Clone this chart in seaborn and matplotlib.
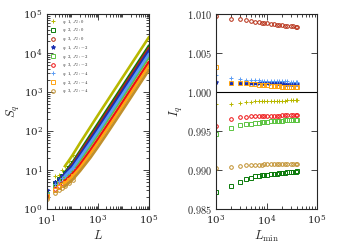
import numpy as np
import pandas as pd
import seaborn as sns
from matplotlib import pyplot as plt
from matplotlib.ticker import FuncFormatter, LogLocator, MultipleLocator

sns.set_style("ticks")
plt.rcParams['font.family'] = ['DejaVu Serif']
plt.rcParams['mathtext.fontset'] = 'cm'

# series labels / styles
labels = ["q1J0", "q2J0", "q3J0", "q1J-2", "q2J-2", "q3J-2", "q1J-4", "q2J-4", "q3J-4"]
legend_txt = [r"$q:1,\ J_2:0$", r"$q:2,\ J_2:0$", r"$q:3,\ J_2:0$",
              r"$q:1,\ J_2:-2$", r"$q:2,\ J_2:-2$", r"$q:3,\ J_2:-2$",
              r"$q:1,\ J_2:-4$", r"$q:2,\ J_2:-4$", r"$q:3,\ J_2:-4$"]
colors = ["#b8b800", "#0a7a0a", "#b52a10", "#1a2fb0", "#5cc442", "#ee1111",
          "#5a9cf5", "#ffa514", "#c08f2c"]
markers = ["+", "s", "o", "*", "s", "o", "+", "s", "o"]

# left panel: S_q vs L
L = [10, 20, 30, 40, 50, 70, 100, 200, 500, 1e3, 2e3, 5e3, 1e4, 2e4, 5e4, 1e5]
S_q1J0 = [2.7, 7.0, 7.5, 10, 12.5, 17, 24, 50, 127, 257, 515, 1290, 2580, 5160, 12900, 25800]
S_q2J0 = [2.3, 4.6, 5.8, 7.2, 8.6, 11.5, 15.5, 31, 78, 155, 310, 775, 1550, 3100, 7750, 15500]
S_q3J0 = [2.1, 4.2, 5.3, 6.6, 7.8, 10.5, 14, 28, 68, 135, 270, 675, 1350, 2700, 6750, 13500]
S_q1J2 = [3.0, 4.8, 5.9, 7.0, 8.1, 10.2, 13, 25, 60, 118, 235, 585, 1170, 2340, 5850, 11700]
S_q2J2 = [2.4, 3.9, 4.7, 5.5, 6.3, 7.8, 9.8, 18, 42, 82, 162, 402, 800, 1600, 4000, 8000]
S_q3J2 = [2.0, 3.3, 3.9, 4.6, 5.2, 6.4, 8.0, 14, 32, 62, 122, 300, 600, 1200, 2990, 5950]
S_q1J4 = [2.6, 4.3, 5.2, 6.1, 7.0, 8.8, 11, 21, 50, 97, 192, 478, 955, 1910, 4770, 9500]
S_q2J4 = [2.2, 3.1, 3.6, 4.1, 4.6, 5.6, 6.9, 11.5, 26, 50, 98, 240, 478, 955, 2380, 4750]
S_q3J4 = [1.8, 2.6, 3.0, 3.4, 3.8, 4.6, 5.6, 9.5, 20.5, 39, 76, 187, 372, 742, 1850, 3700]
S_all = [S_q1J0, S_q2J0, S_q3J0, S_q1J2, S_q2J2, S_q3J2, S_q1J4, S_q2J4, S_q3J4]

# right panel: I_q vs L_min
Lmin = [1000, 2000, 3000, 4000, 5000, 6000, 7000, 8000, 9000, 10000, 12000, 14000,
        16000, 18000, 20000, 23000, 26000, 30000, 34000, 38000, 40000]
I_q1J0 = [0.9984, 0.99850, 0.99865, 0.99873, 0.99878, 0.99881, 0.99883, 0.99885, 0.99886, 0.99887,
          0.99888, 0.99889, 0.99890, 0.99890, 0.99891, 0.99891, 0.99892, 0.99892, 0.99892, 0.99893, 0.99893]
I_q2J0 = [0.9872, 0.9880, 0.9884, 0.9888, 0.9890, 0.9892, 0.98925, 0.9893, 0.98935, 0.9894,
          0.98945, 0.9895, 0.98955, 0.9896, 0.98963, 0.98967, 0.9897, 0.98974, 0.98977, 0.9898, 0.98982]
I_q3J0 = [1.0098, 1.0094, 1.0093, 1.0092, 1.0091, 1.0090, 1.00895, 1.0089, 1.00885, 1.0088,
          1.00872, 1.00866, 1.00861, 1.00857, 1.00853, 1.00849, 1.00846, 1.00843, 1.00841, 1.00839, 1.00838]
I_q1J2 = [1.0013, 1.0012, 1.00118, 1.00116, 1.00115, 1.00114, 1.00113, 1.00112, 1.00112, 1.00111,
          1.00110, 1.00110, 1.00109, 1.00109, 1.00109, 1.00108, 1.00108, 1.00108, 1.00108, 1.00108, 1.00108]
I_q2J2 = [0.9946, 0.9954, 0.99573, 0.99585, 0.99595, 0.99603, 0.99608, 0.99612, 0.99615, 0.99618,
          0.99622, 0.99626, 0.99629, 0.99631, 0.99633, 0.99635, 0.99637, 0.99639, 0.9964, 0.99641, 0.99642]
I_q3J2 = [0.9956, 0.99655, 0.99675, 0.99683, 0.99688, 0.99690, 0.99692, 0.99693, 0.99694, 0.99695,
          0.99696, 0.99697, 0.99698, 0.99698, 0.99699, 0.99699, 0.99700, 0.99700, 0.99700, 0.99701, 0.99701]
I_q1J4 = [1.0022, 1.0018, 1.0017, 1.0016, 1.00155, 1.0015, 1.00148, 1.00146, 1.00145, 1.00144,
          1.00142, 1.0014, 1.00139, 1.00138, 1.00137, 1.00136, 1.00135, 1.00134, 1.00134, 1.00133, 1.00133]
I_q2J4 = [1.0032, 1.0012, 1.00115, 1.0011, 1.00105, 1.0010, 1.00095, 1.0009, 1.00087, 1.00085,
          1.0008, 1.00077, 1.00074, 1.00072, 1.0007, 1.00068, 1.00066, 1.00065, 1.00064, 1.00063, 1.00063]
I_q3J4 = [0.9903, 0.99035, 0.99050, 0.99058, 0.99063, 0.99066, 0.99068, 0.99070, 0.99071, 0.99072,
          0.99074, 0.99075, 0.99076, 0.99077, 0.99077, 0.99078, 0.99078, 0.99079, 0.99079, 0.99080, 0.99080]
I_all = [I_q1J0, I_q2J0, I_q3J0, I_q1J2, I_q2J2, I_q3J2, I_q1J4, I_q2J4, I_q3J4]

fig = plt.figure(figsize=(3.38, 2.5), dpi=100)
ax1 = fig.add_axes([0.139, 0.164, 0.302, 0.78])
ax2 = fig.add_axes([0.639, 0.164, 0.299, 0.78])

def mk(m, c):
    #open markers for squares / circles
    if m in ("s", "o"):
        return dict(markerfacecolor="none", markeredgecolor=c, markeredgewidth=0.7, markersize=2.6)
    return dict(markeredgecolor=c, markerfacecolor=c, markeredgewidth=0.7, markersize=3.0)

for i in range(len(labels)):
    df = pd.DataFrame({"L": L, "S": S_all[i]})
    # dense run of points at large L -> drawn as a band, sparse small-L points as markers
    sns.lineplot(data=df[df.L >= 50], x="L", y="S", ax=ax1, color=colors[i], linewidth=1.9,
                 label="_nolegend_")
    sns.lineplot(data=df[df.L <= 100], x="L", y="S", ax=ax1, color=colors[i], marker=markers[i],
                 linestyle="", label=legend_txt[i], **mk(markers[i], colors[i]))
    df2 = pd.DataFrame({"Lmin": Lmin, "I": I_all[i]})
    sns.lineplot(data=df2, x="Lmin", y="I", ax=ax2, color=colors[i], marker=markers[i], linestyle="",
                 label="_nolegend_", **mk(markers[i], colors[i]))

ax1.set_xscale("log")
ax1.set_yscale("log")
ax1.set_xlim(10, 1e5)
ax1.set_ylim(1, 1e5)
ax1.set_xlabel(r"$L$", fontsize=9, labelpad=1)
ax1.set_ylabel(r"$S_q$", fontsize=9, labelpad=1)
ax1.legend(loc="upper left", fontsize=3.4, frameon=False, handlelength=1.0, handletextpad=1.3,
           labelspacing=0.15, borderaxespad=0.3, borderpad=0.5)

ax2.set_xscale("log")
ax2.set_xlim(1e3, 1e5)
ax2.set_ylim(0.985, 1.010)
ax2.yaxis.set_major_locator(MultipleLocator(0.005))
ax2.yaxis.set_major_formatter(FuncFormatter(lambda v, p: r"$%.3f$" % v))
ax2.axhline(1.0, color="black", linewidth=0.8, zorder=1)
ax2.set_xlabel(r"$L_{\rm min}$", fontsize=9, labelpad=1)
ax2.set_ylabel(r"$I_q$", fontsize=9, labelpad=1)

for ax in (ax1, ax2):
    ax.xaxis.set_minor_locator(LogLocator(base=10, subs=np.arange(2, 10), numticks=20))
    ax.tick_params(which="both", direction="in", top=True, right=True, labelsize=7.5, width=0.6, pad=3)
    ax.tick_params(which="major", length=4)
    ax.tick_params(which="minor", length=2)
    for s in ax.spines.values():
        s.set_linewidth(0.8)
ax1.yaxis.set_minor_locator(LogLocator(base=10, subs=np.arange(2, 10), numticks=20))

fig.savefig("out.png", dpi=100)
